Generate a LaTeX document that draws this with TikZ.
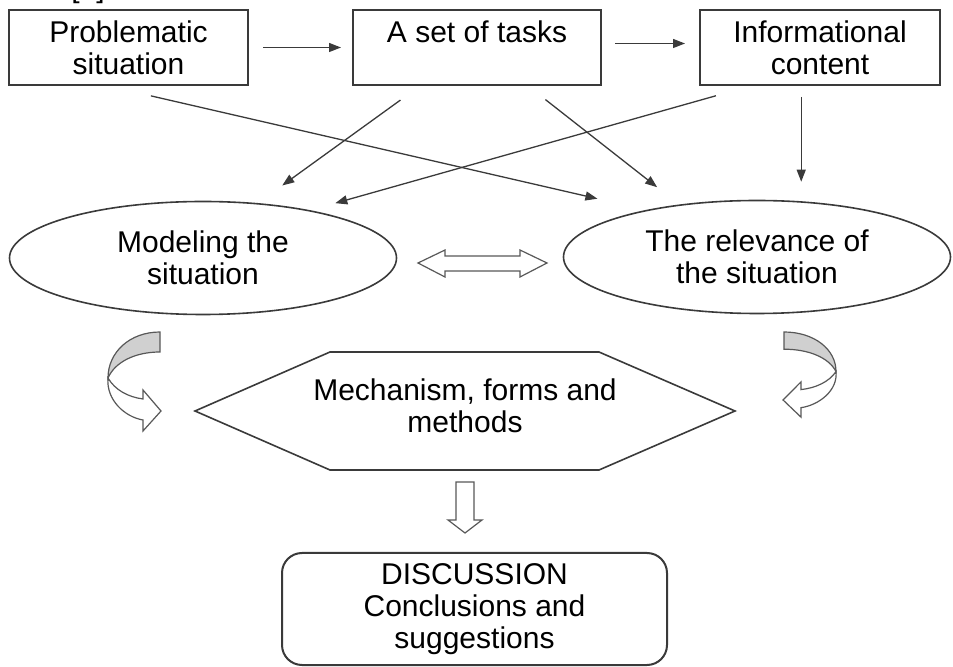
\documentclass[tikz,border=0pt]{standalone}
\usepackage{fontspec}
\setmainfont{Liberation Sans}
\usetikzlibrary{calc, shapes.geometric, arrows.meta}

\definecolor{linegray}{HTML}{3A3A3A}
\definecolor{bandgray}{HTML}{D0D0D0}

\tikzset{
    box/.style={draw=linegray, line width=1pt, minimum height=37.5pt,
        inner sep=0pt, align=center},
    oval/.style={ellipse, draw=linegray, line width=0.8pt, minimum width=193.5pt,
        minimum height=56.5pt, inner sep=0pt, align=center},
    conn/.style={-{Triangle[length=6pt, width=4.5pt]}, line width=0.65pt, draw=linegray},
    hollow/.style={draw=linegray!85, line width=0.6pt, fill=white, line join=miter},
}

% Bent block arrow, origin at the top corner of the grey band
\newcommand{\bentarrow}{%
    \filldraw[hollow, fill=bandgray] (0,0) .. controls (-30,0) and (-52,20) .. (-52,46)
        .. controls (-45,30) and (-25,20) .. (0,20) -- cycle;
    \filldraw[hollow] (-52,46) .. controls (-45,58) and (-32,65) .. (-17,67)
        -- (-17,58) -- (1,79) -- (-17,99) -- (-17,88)
        .. controls (-35,85) and (-54,68) .. (-52,46) -- cycle;
}

\begin{document}
\begin{tikzpicture}[x=0.5pt, y=-0.5pt, font=\fontsize{15}{16}\selectfont]

        \useasboundingbox (0,0) rectangle (953,667);

        % Clipped reference mark at the top edge
        \node[anchor=south, inner sep=0pt] (ref) at (88,4) {[1]};

        % Top row of boxes
        \node[box, minimum width=119.5pt] (prob) at (128.5,47.5) {Problematic\\situation};
        \node[box, minimum width=124pt] (tasks) at (477,47.5) {A set of tasks\\\mbox{}};
        \node[box, minimum width=120pt] (info) at (820,47.5) {Informational\\content};

        % The two ellipses
        \node[oval] (model) at (203,258) {Modeling the\\situation};
        \node[oval] (relev) at (757,257) {The relevance of\\the situation};

        % Coordinates of hexagon in clockwise order
        \coordinate (H1) at (195,411);
        \coordinate (H2) at (330,352);
        \coordinate (H3) at (599,352);
        \coordinate (H4) at (735,411);
        \coordinate (H5) at (599,470);
        \coordinate (H6) at (330,470);

        \draw[draw=linegray, line width=0.8pt] (H1) -- (H2) -- (H3) -- (H4)
            -- (H5) -- (H6) -- cycle;
        \node[align=center] (mech) at (465,406) {Mechanism, forms and\\methods};

        % Final box
        \node[box, rounded corners=10pt, minimum width=192.5pt, minimum height=56pt]
            (disc) at (474.5,609) {DISCUSSION\\Conclusions and\\suggestions};

        % Thin arrows between the blocks
        \begin{scope}
            \draw[conn, shorten <=7pt, shorten >=5.5pt] (prob.east) -- (tasks.west);
            \draw[conn, shorten <=6.5pt, shorten >=7pt]
                ([yshift=2pt]tasks.east) -- ([yshift=2pt]info.west);

            \draw[conn, shorten <=22pt, shorten >=25pt] (prob.242) -- (relev.157);
            \draw[conn, shorten <=12pt, shorten >=15pt] (tasks.214) -- (model.45);
            \draw[conn, shorten <=11pt, shorten >=14pt] (tasks.323) -- (relev.146);
            \draw[conn, shorten <=18pt, shorten >=13pt] (info.209) -- (model.24);
            \draw[conn, shorten <=5.5pt, shorten >=9pt] (info.244) -- (info.244 |- relev.north);
        \end{scope}

        % Hollow block arrows
        \begin{scope}[hollow]
            \draw (418,263) -- (445,250) -- (445,256) -- (520,256) -- (520,250)
                -- (547,263) -- (520,277) -- (520,271) -- (445,271) -- (445,277) -- cycle;

            \draw (456,482) -- (474,482) -- (474,520) -- (482,520) -- (465,533)
                -- (448,520) -- (456,520) -- cycle;
        \end{scope}

        % Bent arrows on both sides of the hexagon
        \begin{scope}[shift={(160,332)}]
            \bentarrow
        \end{scope}
        \begin{scope}[shift={(784,332)}, xscale=-1, yscale=0.86]
            \bentarrow
        \end{scope}

        \end{tikzpicture}
\end{document}
